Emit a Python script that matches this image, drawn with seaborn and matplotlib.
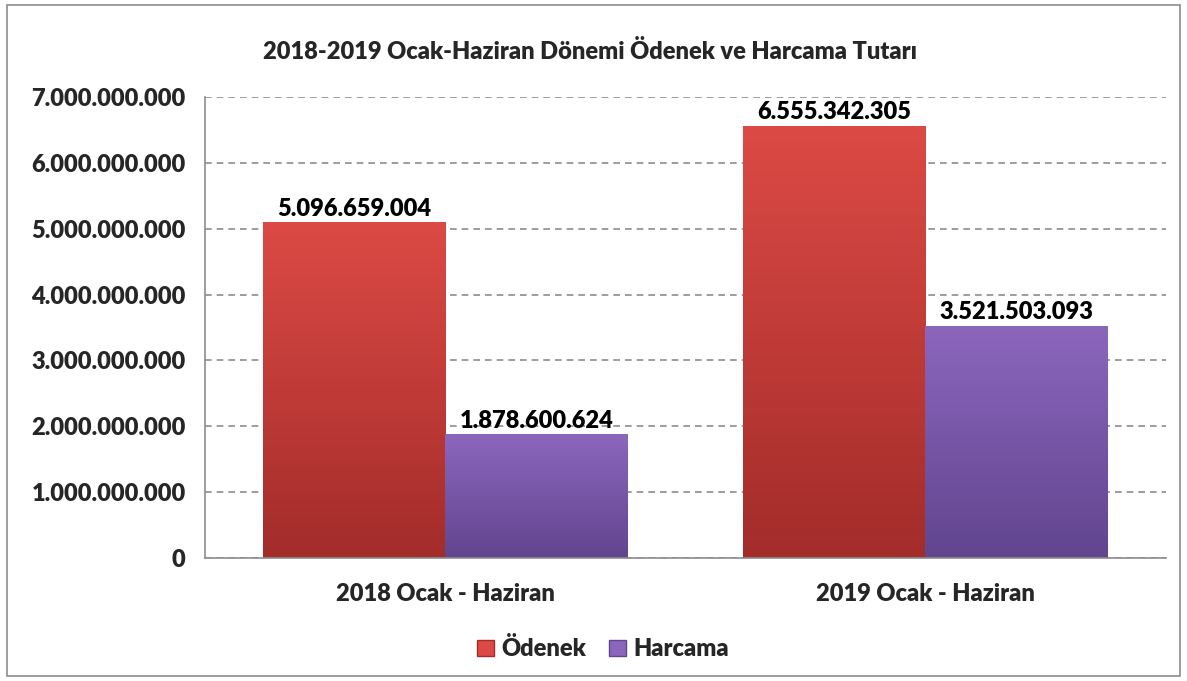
import numpy as np
import pandas as pd
import matplotlib
matplotlib.use("Agg")
import matplotlib.pyplot as plt
import seaborn as sns
from matplotlib.patches import Rectangle, Patch
from matplotlib.colors import LinearSegmentedColormap

periods = ["2018 Ocak - Haziran", "2019 Ocak - Haziran"]
series = ["Ödenek", "Harcama"]
odenek = [5096659004, 6555342305]
harcama = [1878600624, 3521503093]
yticks = [0, 1e9, 2e9, 3e9, 4e9, 5e9, 6e9, 7e9]
title = "2018-2019 Ocak-Haziran Dönemi Ödenek ve Harcama Tutarı"

df = pd.DataFrame({
    "Dönem": periods * 2,
    "Seri": [series[0]] * 2 + [series[1]] * 2,
    "Tutar": odenek + harcama,
})

top_cols = {"Ödenek": "#dc4a45", "Harcama": "#8c66bd"}
bot_cols = {"Ödenek": "#a32c2a", "Harcama": "#61458f"}


def tr_fmt(v):
    return f"{int(round(v)):,}".replace(",", ".")


sns.set_theme(style="white")
plt.rcParams["font.family"] = ["Lato", "DejaVu Sans"]
plt.rcParams["font.weight"] = "bold"
FS = 17

fig = plt.figure(figsize=(11.87, 6.81), dpi=100)
ax = fig.add_axes([0.1727, 0.1806, 0.8093, 0.677])

sns.barplot(data=df, x="Dönem", y="Tutar", hue="Seri", order=periods,
            hue_order=series, palette=top_cols, width=0.76, ax=ax,
            legend=False, edgecolor="none", saturation=1)

# gradient fill on each bar
for cont, name in zip(ax.containers, series):
    cmap = LinearSegmentedColormap.from_list(name, [bot_cols[name], top_cols[name]])
    for bar in cont:
        x0, y0 = bar.get_x(), bar.get_y()
        w, h = bar.get_width(), bar.get_height()
        grad = np.linspace(0, 1, 256).reshape(-1, 1)
        im = ax.imshow(grad, cmap=cmap, aspect="auto", origin="lower",
                       extent=[x0, x0 + w, y0, y0 + h], zorder=bar.get_zorder())
        im.set_clip_path(bar)
    ax.bar_label(cont, labels=[tr_fmt(b.get_height()) for b in cont],
                 padding=2, fontsize=FS, fontweight="heavy", color="black")

ax.set_xlim(-0.5, 1.5)
ax.set_ylim(0, 7e9)
ax.set_yticks(yticks)
ax.set_yticklabels([tr_fmt(v) for v in yticks], fontsize=FS, fontweight="heavy")
ax.set_xticks([0, 1])
ax.set_xticklabels(periods, fontsize=FS, fontweight="heavy")
ax.set_xlabel("")
ax.set_ylabel("")
ax.yaxis.grid(True, linestyle=(0, (4, 3)), color="#8c8c8c", linewidth=1.2)
ax.set_axisbelow(True)
for s in ["top", "right"]:
    ax.spines[s].set_visible(False)
for s in ["left", "bottom"]:
    ax.spines[s].set_color("#8c8c8c")
    ax.spines[s].set_linewidth(1.2)
ax.tick_params(axis="y", length=6, color="#8c8c8c", width=1.2, pad=8)
ax.tick_params(axis="x", length=0, pad=18)
# minor ticks at category boundaries
ax.set_xticks([-0.5, 0.5, 1.5], minor=True)
ax.tick_params(axis="x", which="minor", length=6, color="#8c8c8c", width=1.2, direction="out")

fig.text(0.497, 0.925, title, ha="center", va="center", fontsize=FS, fontweight="heavy")

handles = [Patch(facecolor=top_cols[s], edgecolor=bot_cols[s], label=s) for s in series]
fig.legend(handles=handles, loc="center", bbox_to_anchor=(0.508, 0.047), ncol=2,
           frameon=False, handlelength=0.7, handleheight=0.7,
           handletextpad=0.3, columnspacing=1.0, prop={"weight": "heavy", "size": FS})

fig.patches.append(Rectangle((0.006, 0.008), 0.988, 0.984, transform=fig.transFigure,
                             fill=False, edgecolor="#8c8c8c", linewidth=1.2))

fig.savefig("out.png", dpi=100)
